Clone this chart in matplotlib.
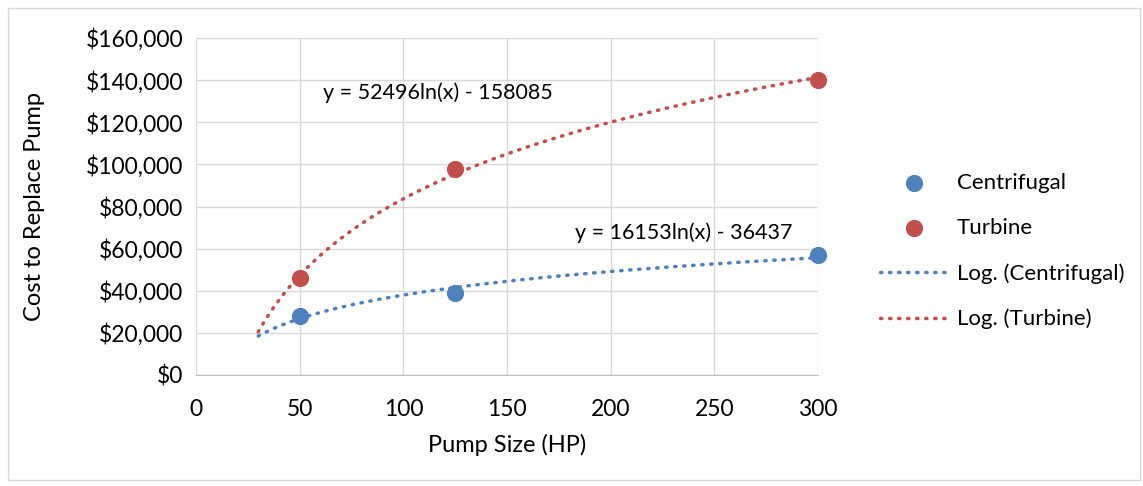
import numpy as np
import matplotlib.pyplot as plt
from matplotlib.patches import Rectangle
from matplotlib.ticker import FuncFormatter

plt.rcParams['font.family'] = ['Lato', 'DejaVu Sans']

# pump sizes (HP) and replacement costs
hp = [50, 125, 300]
centrifugal = [28000, 39000, 57000]
turbine = [46000, 98000, 140000]

# trendline coefficients as printed on the chart: y = a ln(x) + b
cen_a, cen_b = 16153, -36437
tur_a, tur_b = 52496, -158085
trend_start, trend_end = 30, 300

blue = '#4F81BD'
red = '#C0504D'

fig = plt.figure(figsize=(11.43, 4.86), dpi=100)
fig.patches.append(Rectangle((0.007, 0.012), 0.99, 0.972, transform=fig.transFigure,
                             fill=False, edgecolor='#D9D9D9', linewidth=1))
ax = fig.add_axes([0.1715, 0.2284, 0.5442, 0.6934])

xs = np.linspace(trend_start, trend_end, 300)
ax.plot(xs, cen_a * np.log(xs) + cen_b, color=blue, lw=2.5, ls=(0, (0.4, 2.2)),
        dash_capstyle='round', label='Log. (Centrifugal)', zorder=3, clip_on=False)
ax.plot(xs, tur_a * np.log(xs) + tur_b, color=red, lw=2.5, ls=(0, (0.4, 2.2)),
        dash_capstyle='round', label='Log. (Turbine)', zorder=3, clip_on=False)
ax.scatter(hp, centrifugal, s=130, color=blue, label='Centrifugal', zorder=4, clip_on=False)
ax.scatter(hp, turbine, s=130, color=red, label='Turbine', zorder=4, clip_on=False)

ax.set_xlim(0, 300)
ax.set_ylim(0, 160000)
ax.set_xticks(range(0, 301, 50))
ax.set_yticks(range(0, 160001, 20000))
ax.yaxis.set_major_formatter(FuncFormatter(lambda v, p: '${:,.0f}'.format(v)))
ax.grid(True, color='#D9D9D9', lw=1)
ax.set_axisbelow(True)
for s in ['top', 'right', 'left']:
    ax.spines[s].set_visible(False)
ax.spines['bottom'].set_color('#BFBFBF')
ax.tick_params(length=0, labelsize=16.5, colors='black')
ax.tick_params(axis='x', pad=17)
ax.tick_params(axis='y', pad=9)

ax.set_xlabel('Pump Size (HP)', fontsize=17, va='center')
ax.set_ylabel('Cost to Replace Pump', fontsize=17, va='center')
ax.xaxis.set_label_coords(0.5, -0.208)
ax.yaxis.set_label_coords(-0.259, 0.5)

ax.text(61, 134000, 'y = 52496ln(x) - 158085', fontsize=15.5, va='center')
ax.text(183, 67500, 'y = 16153ln(x) - 36437', fontsize=15.5, va='center')

h, l = ax.get_legend_handles_labels()
order = [2, 3, 0, 1]
fig.legend([h[i] for i in order], [l[i] for i in order], loc='center left',
           bbox_to_anchor=(0.77, 0.4835), frameon=False, fontsize=16,
           borderpad=0, borderaxespad=0,
           handlelength=3.06, labelspacing=1.13, handletextpad=0.4)

fig.savefig('out.png', dpi=100)
